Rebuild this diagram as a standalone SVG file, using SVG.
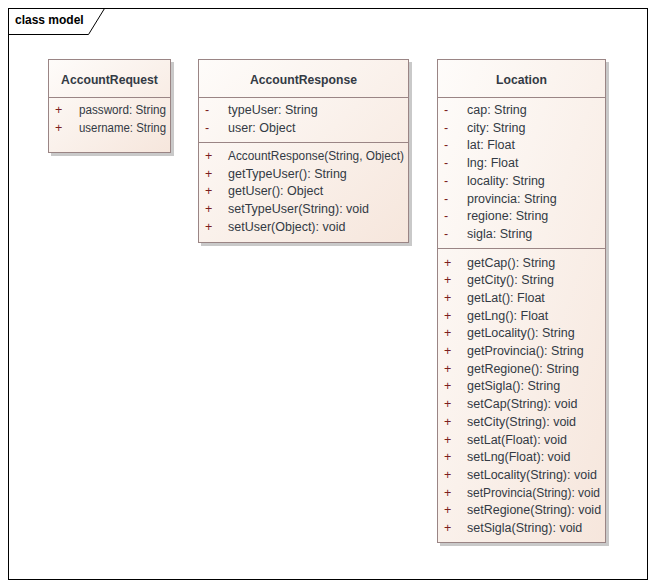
<svg xmlns="http://www.w3.org/2000/svg" width="656" height="588" viewBox="0 0 656 588">
<defs>
<linearGradient id="fillGrad" x1="0" y1="0" x2="1" y2="1">
<stop offset="0" stop-color="#fefcfa"/>
<stop offset="1" stop-color="#f6e6dc"/>
</linearGradient>
</defs>
<style>
.frame{fill:#ffffff;stroke:#000000;stroke-width:1}
.tab{fill:none;stroke:#000000;stroke-width:1}
.shadow{fill:#c9c9c9}
.box{fill:url(#fillGrad);stroke:#9a8585;stroke-width:1}
.sep{stroke:#9a8585;stroke-width:1}
.title{font-family:"Liberation Sans",Arial,sans-serif;font-size:12.2px;font-weight:bold;fill:#333a44;text-anchor:middle}
.frameTitle{font-family:"Liberation Sans",Arial,sans-serif;font-size:12px;font-weight:bold;fill:#000000}
.txt{font-family:"Liberation Sans",Arial,sans-serif;font-size:12.5px;fill:#333a44}
.sym{font-family:"Liberation Sans",Arial,sans-serif;font-size:12.5px;fill:#7a2020}
</style>
<rect width="656" height="588" fill="#ffffff"/>
<g id="frame">
<rect class="frame" x="8.5" y="8.5" width="639" height="571"/>
<path class="tab" d="M8.5,34.5 H88.5 L104.5,8.5"/>
<text class="frameTitle" x="15" y="24">class model</text>
</g>
<g id="AccountRequest">
<rect class="shadow" x="51" y="62" width="123" height="94"/>
<rect class="box" x="48.5" y="59.5" width="122" height="93"/>
<line class="sep" x1="48.5" y1="97.5" x2="170.5" y2="97.5"/>
<text class="title" x="109.5" y="84">AccountRequest</text>
<text class="sym" x="55" y="114">+</text><text class="txt" x="79" y="114" textLength="87" lengthAdjust="spacingAndGlyphs">password: String</text>
<text class="sym" x="55" y="132">+</text><text class="txt" x="79" y="132" textLength="87" lengthAdjust="spacingAndGlyphs">username: String</text>
</g>
<g id="AccountResponse">
<rect class="shadow" x="201" y="62" width="211" height="184"/>
<rect class="box" x="198.5" y="59.5" width="210" height="183"/>
<line class="sep" x1="198.5" y1="97.5" x2="408.5" y2="97.5"/>
<line class="sep" x1="198.5" y1="142.5" x2="408.5" y2="142.5"/>
<text class="title" x="303.5" y="84">AccountResponse</text>
<text class="sym" x="205" y="114">-</text><text class="txt" x="228" y="114">typeUser: String</text>
<text class="sym" x="205" y="132">-</text><text class="txt" x="228" y="132">user: Object</text>
<text class="sym" x="205" y="160">+</text><text class="txt" x="228" y="160" textLength="176" lengthAdjust="spacingAndGlyphs">AccountResponse(String, Object)</text>
<text class="sym" x="205" y="177.7">+</text><text class="txt" x="228" y="177.7">getTypeUser(): String</text>
<text class="sym" x="205" y="195.4">+</text><text class="txt" x="228" y="195.4">getUser(): Object</text>
<text class="sym" x="205" y="213.1">+</text><text class="txt" x="228" y="213.1">setTypeUser(String): void</text>
<text class="sym" x="205" y="230.8">+</text><text class="txt" x="228" y="230.8">setUser(Object): void</text>
</g>
<g id="Location">
<rect class="shadow" x="440" y="62" width="169" height="484"/>
<rect class="box" x="437.5" y="59.5" width="168" height="483"/>
<line class="sep" x1="437.5" y1="97.5" x2="605.5" y2="97.5"/>
<line class="sep" x1="437.5" y1="248.5" x2="605.5" y2="248.5"/>
<text class="title" x="521.5" y="84">Location</text>
<text class="sym" x="444" y="114">-</text><text class="txt" x="467" y="114">cap: String</text>
<text class="sym" x="444" y="131.7">-</text><text class="txt" x="467" y="131.7">city: String</text>
<text class="sym" x="444" y="149.4">-</text><text class="txt" x="467" y="149.4">lat: Float</text>
<text class="sym" x="444" y="167.1">-</text><text class="txt" x="467" y="167.1">lng: Float</text>
<text class="sym" x="444" y="184.8">-</text><text class="txt" x="467" y="184.8">locality: String</text>
<text class="sym" x="444" y="202.5">-</text><text class="txt" x="467" y="202.5">provincia: String</text>
<text class="sym" x="444" y="220.2">-</text><text class="txt" x="467" y="220.2">regione: String</text>
<text class="sym" x="444" y="237.9">-</text><text class="txt" x="467" y="237.9">sigla: String</text>
<text class="sym" x="444" y="266.5">+</text><text class="txt" x="467" y="266.5">getCap(): String</text>
<text class="sym" x="444" y="284.2">+</text><text class="txt" x="467" y="284.2">getCity(): String</text>
<text class="sym" x="444" y="301.9">+</text><text class="txt" x="467" y="301.9">getLat(): Float</text>
<text class="sym" x="444" y="319.6">+</text><text class="txt" x="467" y="319.6">getLng(): Float</text>
<text class="sym" x="444" y="337.3">+</text><text class="txt" x="467" y="337.3">getLocality(): String</text>
<text class="sym" x="444" y="355">+</text><text class="txt" x="467" y="355">getProvincia(): String</text>
<text class="sym" x="444" y="372.7">+</text><text class="txt" x="467" y="372.7">getRegione(): String</text>
<text class="sym" x="444" y="390.4">+</text><text class="txt" x="467" y="390.4">getSigla(): String</text>
<text class="sym" x="444" y="408.1">+</text><text class="txt" x="467" y="408.1">setCap(String): void</text>
<text class="sym" x="444" y="425.8">+</text><text class="txt" x="467" y="425.8">setCity(String): void</text>
<text class="sym" x="444" y="443.5">+</text><text class="txt" x="467" y="443.5">setLat(Float): void</text>
<text class="sym" x="444" y="461.2">+</text><text class="txt" x="467" y="461.2">setLng(Float): void</text>
<text class="sym" x="444" y="478.9">+</text><text class="txt" x="467" y="478.9">setLocality(String): void</text>
<text class="sym" x="444" y="496.6">+</text><text class="txt" x="467" y="496.6" textLength="133" lengthAdjust="spacingAndGlyphs">setProvincia(String): void</text>
<text class="sym" x="444" y="514.3">+</text><text class="txt" x="467" y="514.3">setRegione(String): void</text>
<text class="sym" x="444" y="532">+</text><text class="txt" x="467" y="532">setSigla(String): void</text>
</g>
<g id="connectors"/>
</svg>
